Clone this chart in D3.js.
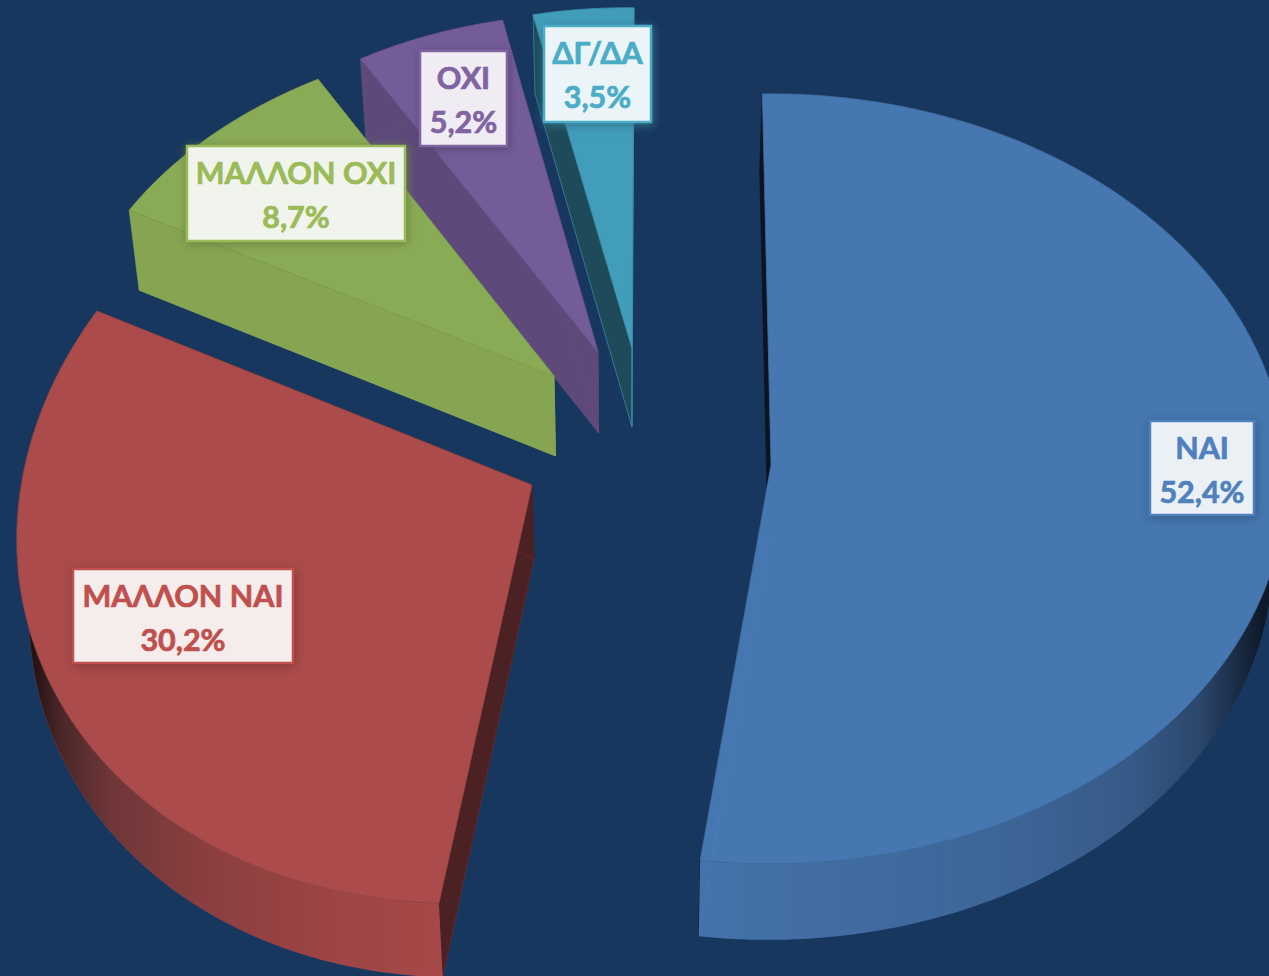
<!DOCTYPE html>
<html><head><meta charset="utf-8">
<script src="https://cdnjs.cloudflare.com/ajax/libs/d3/7.8.5/d3.min.js"></script>
<style>html,body{margin:0;padding:0;background:#17375e;overflow:hidden}svg{display:block}</style>
</head><body><svg id="c" width="1269" height="976"></svg>
<script>
const categories = ["ΝΑΙ","ΜΑΛΛΟΝ ΝΑΙ","ΜΑΛΛΟΝ ΟΧΙ","ΟΧΙ","ΔΓ/ΔΑ"];
const values = [52.4,30.2,8.7,5.2,3.5];
const valueLabels = ["52,4%","30,2%","8,7%","5,2%","3,5%"];
const faceColors = ["#4677b0","#ab4b4b","#8aab56","#745c98","#429dbb"];
const textColors = ["#4f81bd","#c0504d","#9bbb59","#8064a2","#4bacc6"];
const boxFills = ["#ebf0f5","#f5ecec","#f1f4ec","#efecf3","#ebf4f7"];
const sideColors = ["#0b1420","#4c2124","#86a552","#5e4a7a","#1f4a5a"];
const ghostOpacity = [.22,.18,.2,.1,0];
// layout of each exploded slice: apex and projected axes of the tilted disc
const layout = [
 {ax:771,ay:465,rx:515,ry:385,sx:0,sy:0,pk:.036,d:76,b:0},
 {ax:532,ay:485,rx:499,ry:420,sx:-27,sy:-14,pk:0,d:74,b:.04},
 {ax:554,ay:376,rx:489,ry:341,sx:-30,sy:16,pk:0,d:80,b:0},
 {ax:598,ay:352,rx:468,ry:338,sx:-15,sy:14,pk:0,d:81,b:0},
 {ax:632,ay:348,rx:462,ry:340,sx:-10,sy:12,pk:0,d:79,b:0}
];
const boxes = [[1150,421,104,94],[73,569,220,94],[187,146,218,95],[420,51,87,95],[544,26,107,96]];
const wallStops = [
 [[700,"#4472aa"],[1000,"#3d6698"],[1130,"#375a88"],[1200,"#2a466b"],[1262,"#0e1a2a"]],
 [[28,"#1d0d0f"],[60,"#4a2628"],[110,"#6e3638"],[200,"#8a3e3f"],[320,"#9c4444"],[440,"#a64848"]]
];
const START=-1*Math.PI/180, VANISH_X=630, CONVERGE=.02;
const svg=d3.select("#c");
const defs=svg.append("defs");
wallStops.forEach((st,i)=>{
  const g=defs.append("linearGradient").attr("id","wall"+i).attr("gradientUnits","userSpaceOnUse")
   .attr("x1",st[0][0]).attr("x2",st[st.length-1][0]).attr("y1",0).attr("y2",0);
  const t=d3.scaleLinear().domain([st[0][0],st[st.length-1][0]]).range([0,1]);
  st.forEach(s=>g.append("stop").attr("offset",t(s[0])).attr("stop-color",s[1]));
});
const pie=d3.pie().sort(null).startAngle(START).endAngle(START+2*Math.PI);
const arcs=pie(values);
const line=d3.line().x(p=>p[0]).y(p=>p[1]);
function project(g,a,t){
  const u=Math.sin(a),v=-Math.cos(a),k=(1+g.pk*v)*(1+g.b*Math.sin(Math.PI*t));
  return [g.ax+(g.rx*u+g.sx*v)*k, g.ay+(g.ry*v+g.sy*u)*k];
}
function drop(g,p){return [p[0]+CONVERGE*(VANISH_X-p[0]),p[1]+g.d];}
const order=[4,3,2,1,0];
order.forEach(i=>{
  const g=layout[i],a=arcs[i];
  const n=Math.max(12,Math.ceil((a.endAngle-a.startAngle)*60));
  const ang=d3.range(n+1).map(j=>a.startAngle+(a.endAngle-a.startAngle)*j/n);
  const rim=ang.map((x,j)=>project(g,x,j/n));
  const apex=[g.ax,g.ay];
  const low=rim.map(p=>drop(g,p)),lowApex=drop(g,apex);
  const G=svg.append("g");
  // radial walls
  const f=rim[0],l=rim[n];
  [[f,drop(g,f)],[l,drop(g,l)]].forEach(e=>{
    G.append("path").attr("d",line([apex,e[0],e[1],lowApex])+"Z")
     .attr("fill",sideColors[i]).attr("stroke",i===4?"#3f93ad":sideColors[i]).attr("stroke-width",.7);
  });
  // outer wall: only the near part of the rim can be seen
  const near=ang.map((x,j)=>-Math.cos(x)>-.2?j:-1).filter(j=>j>=0);
  if(near.length>1 && i<2){
    const r=near.map(j=>rim[j]),q=near.map(j=>low[j]).reverse();
    G.append("path").attr("d",line(r.concat(q))+"Z").attr("fill",`url(#wall${i})`);
  }
  // top face
  G.append("path").attr("d",line([apex].concat(rim))+"Z")
   .attr("fill",faceColors[i]).attr("stroke",d3.color(faceColors[i]).darker(.25)).attr("stroke-width",.8);
  // faint see-through outline of the lower face (the big blue slice shows only its edge)
  const ghost=i===0?[lowApex,low[n]]:[lowApex].concat(low,[lowApex]);
  G.append("path").attr("d",line(ghost))
   .attr("fill","none").attr("stroke",d3.color(faceColors[i]).brighter(.5)).attr("stroke-opacity",ghostOpacity[i]).attr("stroke-width",1);
});
// labels
categories.forEach((c,i)=>{
  const b=boxes[i],cx=b[0]+b[2]/2;
  svg.append("rect").attr("x",b[0]).attr("y",b[1]).attr("width",b[2]).attr("height",b[3])
   .attr("fill",boxFills[i]).attr("stroke",textColors[i]).attr("stroke-width",2.5)
   .style("filter",`drop-shadow(1px 2px 5px ${d3.color(faceColors[i]).darker(.8)})`);
  [c,valueLabels[i]].forEach((t,j)=>{
    svg.append("text").attr("x",cx).attr("y",b[1]+38+j*43.5).attr("text-anchor","middle")
     .attr("fill",textColors[i]).attr("stroke",textColors[i]).attr("stroke-width",.7)
     .style("font","700 30.5px Lato").text(t);
  });
});
</script></body></html>
